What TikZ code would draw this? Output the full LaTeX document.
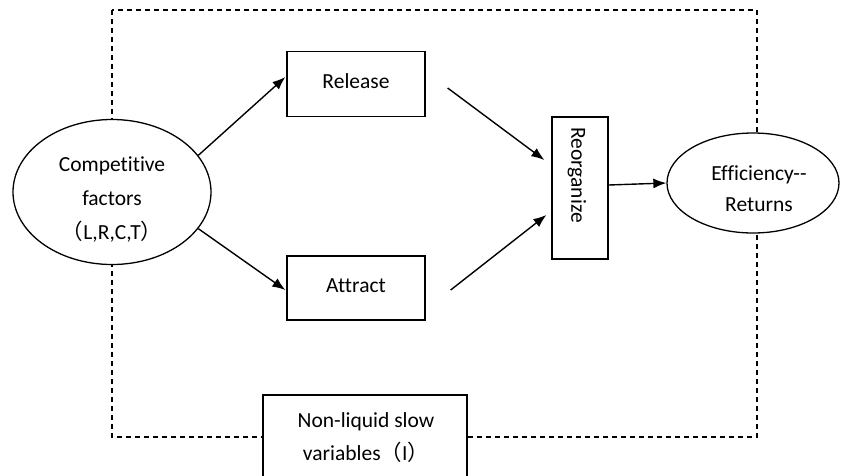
\documentclass[tikz,border=0pt]{standalone}
\usepackage{fontspec}
\setmainfont{Carlito}[Ligatures={TeX,NoCommon}]
\newfontfamily\cjk{Noto Sans CJK SC}
\usetikzlibrary{shapes.geometric,arrows.meta,calc}
\begin{document}
\begin{tikzpicture}[x=1pt,y=-1pt,
  txt/.style={font=\fontsize{21.5}{34}\selectfont,inner sep=0pt,align=center},
  box/.style={draw,line width=1.3pt,fill=white,inner sep=0pt,txt,text depth=5pt},
  oval/.style={draw,ellipse,line width=1.3pt,fill=white,inner sep=0pt},
  arr/.style={-{Latex[length=13pt,width=10pt]},line width=1.4pt},
  frame/.style={dash pattern=on 5pt off 4pt,line width=1.3pt}]
\useasboundingbox (0,0) rectangle (841,475);
\clip (0,0) rectangle (841,475);
\draw[frame] (112,10) rectangle (757,437);
\node[oval,minimum width=198,minimum height=145] (cf) at (112,192) {};
\node[txt] (cftxt) at (112,199) {Competitive\\factors\\{\cjk （}L,R,C,T{\cjk ）}};
\node[oval,minimum width=172,minimum height=100] (eff) at (753,183) {};
\node[txt,font=\fontsize{21.5}{31}\selectfont] (efftxt) at (759,189) {Efficiency-{}-\\Returns};
\node[box,minimum width=138,minimum height=65] (rel) at (356,84) {Release};
\node[box,minimum width=138,minimum height=64] (att) at (356,288) {Attract};
\node[box,minimum width=56,minimum height=142] (reo) at (580,188) {};
\node[txt,rotate=-90] (reotxt) at (577,175) {Reorganize};
\node[box,minimum width=204,minimum height=86,text depth=0pt] (nl) at (365,438) {};
\node[txt,font=\fontsize{21.5}{33}\selectfont] (nltxt) at (366,438)
  {Non-liquid slow\\variables{\cjk （}I{\cjk ）}};
\draw[arr] (cf.23.5) -- ($(rel.west)+(-1,-7)$);
\draw[arr] (cf.-23.5) -- ($(att.west)+(-1,2)$);
\draw[arr] ($(rel.east)+(22,4)$) -- ($(reo.west)+(-7,-28)$);
\draw[arr] ($(att.east)+(25,2)$) -- ($(reo.west)+(-5,27)$);
\draw[arr] ($(reo.east)+(0,-3)$) -- (eff.west);
\end{tikzpicture}
\end{document}
